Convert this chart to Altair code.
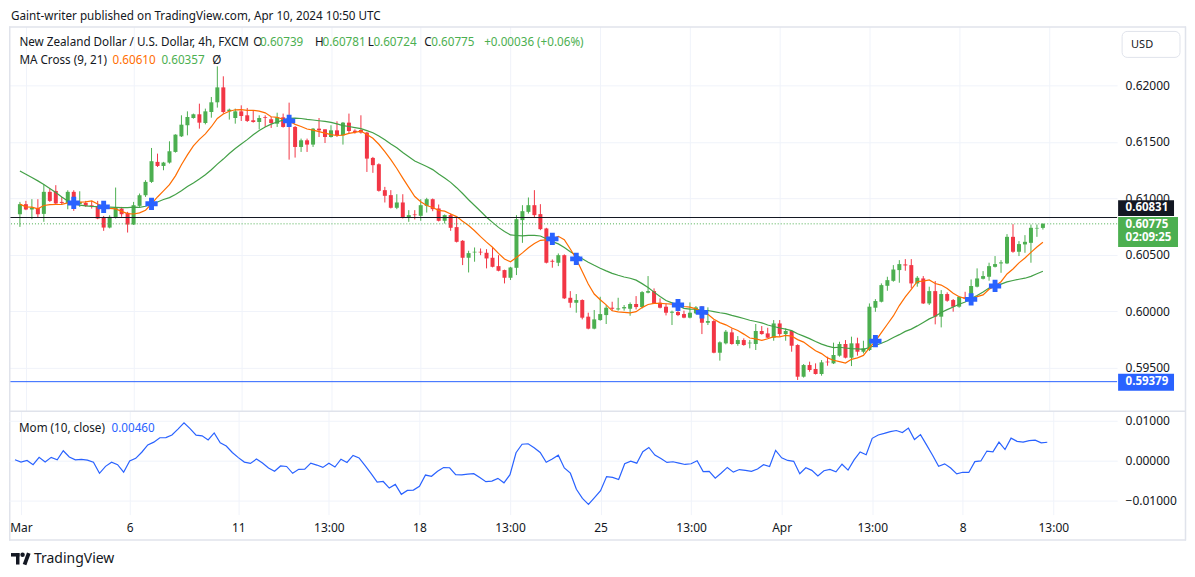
import altair as alt
import pandas as pd

# ---------------- text content ----------------
TITLE = "Gaint-writer published on TradingView.com, Apr 10, 2024 10:50 UTC"
SYMBOL = "New Zealand Dollar / U.S. Dollar, 4h, FXCM"
OHLC_LABELS = ["O", "H", "L", "C"]
OHLC_VALUES = ["0.60739", "0.60781", "0.60724", "0.60775"]
CHANGE_TEXT = "+0.00036 (+0.06%)"
MA_TITLE = "MA Cross (9, 21)"
MA_VALUES = ["0.60610", "0.60357"]
MOM_TITLE = "Mom (10, close)"
MOM_VALUE = "0.00460"

# ---------------- candles (4h NZD/USD) ----------------
opens = [0.60860,0.60949,0.60902,0.60916,0.60863,0.61058,0.61066,0.60969,0.60960,0.61058,
0.60949,0.60960,0.60940,0.60931,0.60831,0.60742,0.60831,0.60910,0.60872,0.60769,
0.60934,0.61028,0.61146,0.61323,0.61287,0.61317,0.61411,0.61549,0.61647,0.61711,
0.61744,0.61667,0.61764,0.61850,0.61982,0.61770,0.61711,0.61770,0.61735,0.61691,
0.61676,0.61717,0.61700,0.61661,0.61717,0.61700,0.61632,0.61455,0.61514,0.61476,
0.61617,0.61611,0.61543,0.61602,0.61558,0.61670,0.61599,0.61605,0.61582,0.61358,
0.61302,0.61073,0.61029,0.60917,0.60964,0.60828,0.60858,0.60846,0.60934,0.60993,
0.60911,0.60802,0.60852,0.60746,0.60625,0.60475,0.60522,0.60528,0.60519,0.60475,
0.60401,0.60366,0.60298,0.60386,0.60808,0.60881,0.60940,0.60861,0.60734,0.60448,
0.60431,0.60498,0.60121,0.60077,0.60101,0.59954,0.59848,0.59924,0.59968,0.60033,
0.60018,0.60027,0.60024,0.60066,0.60039,0.60166,0.60180,0.60077,0.60042,0.59989,
0.59995,0.59977,0.59945,0.59983,0.60042,0.59900,0.59915,0.59635,0.59718,0.59815,
0.59712,0.59747,0.59718,0.59712,0.59827,0.59806,0.59768,0.59894,0.59800,0.59827,
0.59703,0.59423,0.59526,0.59491,0.59447,0.59556,0.59541,0.59609,0.59712,0.59591,
0.59718,0.59644,0.59659,0.60033,0.60086,0.60227,0.60271,0.60366,0.60416,0.60410,
0.60248,0.60292,0.60071,0.60180,0.59954,0.60154,0.60101,0.60042,0.60124,0.60116,
0.60219,0.60289,0.60307,0.60395,0.60425,0.60425,0.60660,0.60528,0.60593,0.60607,
0.60734,0.60739]

highs = [0.60969,0.60978,0.60993,0.60993,0.61125,0.61087,0.61117,0.61013,0.61072,0.61072,
0.61063,0.60978,0.60978,0.60978,0.60845,0.60851,0.61096,0.60925,0.60881,0.60969,
0.61043,0.61161,0.61446,0.61396,0.61323,0.61505,0.61567,0.61735,0.61770,0.61750,
0.61838,0.61794,0.61897,0.62168,0.62080,0.61794,0.61794,0.61823,0.61800,0.61779,
0.61735,0.61735,0.61720,0.61758,0.61750,0.61847,0.61640,0.61529,0.61529,0.61623,
0.61711,0.61611,0.61647,0.61682,0.61676,0.61750,0.61611,0.61735,0.61588,0.61367,
0.61310,0.61102,0.61073,0.61037,0.61037,0.60896,0.60896,0.60993,0.61005,0.60999,
0.60946,0.60858,0.60866,0.60837,0.60631,0.60537,0.60566,0.60557,0.60551,0.60566,
0.60498,0.60370,0.60395,0.60852,0.60940,0.61008,0.61073,0.60949,0.60740,0.60460,
0.60513,0.60505,0.60180,0.60154,0.60107,0.59989,0.60013,0.60130,0.60057,0.60086,
0.60121,0.60057,0.60080,0.60136,0.60180,0.60313,0.60204,0.60116,0.60071,0.60007,
0.60071,0.60007,0.60080,0.60048,0.60048,0.60036,0.59924,0.59735,0.59836,0.59850,
0.59782,0.59762,0.59747,0.59889,0.59871,0.59856,0.59924,0.59924,0.59850,0.59836,
0.59710,0.59535,0.59556,0.59541,0.59570,0.59600,0.59724,0.59732,0.59747,0.59777,
0.59768,0.59741,0.60071,0.60109,0.60248,0.60307,0.60410,0.60454,0.60463,0.60463,
0.60313,0.60313,0.60219,0.60269,0.60189,0.60169,0.60110,0.60136,0.60174,0.60283,
0.60381,0.60357,0.60431,0.60490,0.60454,0.60684,0.60772,0.60622,0.60675,0.60769,
0.60769,0.60781]

lows = [0.60748,0.60896,0.60816,0.60828,0.60793,0.60969,0.60949,0.60949,0.60904,0.60890,
0.60925,0.60925,0.60910,0.60816,0.60713,0.60735,0.60822,0.60837,0.60698,0.60765,
0.60925,0.61013,0.61137,0.61278,0.61249,0.61308,0.61405,0.61543,0.61558,0.61705,
0.61617,0.61655,0.61714,0.61803,0.61750,0.61697,0.61661,0.61685,0.61676,0.61670,
0.61611,0.61632,0.61623,0.61632,0.61626,0.61343,0.61361,0.61411,0.61411,0.61455,
0.61543,0.61490,0.61538,0.61543,0.61476,0.61573,0.61573,0.61573,0.61234,0.61226,
0.61060,0.60964,0.60911,0.60905,0.60822,0.60793,0.60814,0.60802,0.60875,0.60887,
0.60796,0.60778,0.60713,0.60610,0.60410,0.60345,0.60440,0.60498,0.60381,0.60390,
0.60355,0.60248,0.60278,0.60322,0.60607,0.60866,0.60828,0.60719,0.60425,0.60387,
0.60401,0.60110,0.60033,0.59989,0.59930,0.59842,0.59842,0.59918,0.59889,0.60004,
0.60007,0.60007,0.59962,0.60018,0.60027,0.60160,0.60066,0.60027,0.59965,0.59880,
0.59959,0.59940,0.59939,0.59977,0.59800,0.59880,0.59630,0.59565,0.59709,0.59706,
0.59697,0.59697,0.59674,0.59659,0.59795,0.59763,0.59741,0.59777,0.59741,0.59644,
0.59394,0.59415,0.59467,0.59442,0.59432,0.59520,0.59535,0.59600,0.59585,0.59517,
0.59609,0.59629,0.59650,0.59997,0.60080,0.60183,0.60263,0.60254,0.60360,0.60204,
0.60219,0.60066,0.60057,0.59886,0.59859,0.60086,0.59998,0.60033,0.60107,0.60110,
0.60213,0.60283,0.60272,0.60389,0.60342,0.60419,0.60519,0.60490,0.60519,0.60431,
0.60660,0.60724]

closes = [0.60949,0.60902,0.60919,0.60860,0.61058,0.60978,0.60955,0.60960,0.61058,0.60949,
0.60969,0.60934,0.60934,0.60822,0.60742,0.60837,0.60919,0.60860,0.60769,0.60940,
0.61028,0.61146,0.61329,0.61287,0.61317,0.61417,0.61564,0.61652,0.61720,0.61744,
0.61670,0.61770,0.61850,0.61982,0.61764,0.61785,0.61770,0.61729,0.61685,0.61676,
0.61711,0.61711,0.61667,0.61717,0.61632,0.61641,0.61455,0.61514,0.61476,0.61617,
0.61602,0.61543,0.61602,0.61558,0.61670,0.61596,0.61588,0.61582,0.61352,0.61294,
0.61067,0.61023,0.60917,0.60964,0.60828,0.60852,0.60852,0.60940,0.60993,0.60905,
0.60802,0.60852,0.60740,0.60616,0.60475,0.60516,0.60528,0.60522,0.60469,0.60395,
0.60360,0.60298,0.60389,0.60816,0.60887,0.60940,0.60852,0.60728,0.60431,0.60440,
0.60498,0.60116,0.60077,0.60101,0.59945,0.59848,0.59930,0.59977,0.60033,0.60024,
0.60027,0.60039,0.60066,0.60039,0.60171,0.60180,0.60071,0.60033,0.59989,0.59998,
0.59968,0.59945,0.59989,0.60036,0.59900,0.59915,0.59635,0.59727,0.59821,0.59712,
0.59747,0.59703,0.59724,0.59827,0.59800,0.59768,0.59894,0.59800,0.59827,0.59697,
0.59423,0.59526,0.59482,0.59447,0.59550,0.59550,0.59615,0.59712,0.59591,0.59718,
0.59644,0.59674,0.60042,0.60092,0.60233,0.60277,0.60371,0.60419,0.60407,0.60248,
0.60298,0.60071,0.60180,0.59954,0.60154,0.60095,0.60042,0.60130,0.60113,0.60225,
0.60292,0.60313,0.60401,0.60419,0.60434,0.60660,0.60528,0.60596,0.60616,0.60740,
0.60739,0.60775]

# 21-SMA as read at the left edge (its history lies before the visible bars)
ma21_head = [0.61243,0.61214,0.61184,0.61155,0.61122,0.61087,0.61052,0.61013,0.60978,0.60955,
0.60940,0.60934,0.60930,0.60928,0.60928,0.60922,0.60920,0.60919,0.60919,0.60922]
# Momentum as read for the first 10 bars
mom_head = [0.00025,-0.00033,0.00008,-0.00100,0.00083,-0.00033,0.00083,0.00025,0.00250,0.00092]

tick_idx = [1, 19, 37, 52, 67, 82, 97, 112, 127, 142, 157, 172]
tick_labels = ["Mar", "6", "11", "13:00", "18", "13:00", "25", "13:00", "Apr", "13:00", "8", "13:00"]
price_ticks = [0.595, 0.600, 0.605, 0.610, 0.615, 0.620]
mom_ticks = [-0.01, 0.0, 0.01]
level_black = 0.60831
level_blue = 0.59379
last_price = 0.60775
tag_black = "0.60831"
tag_last = "0.60775"
tag_timer = "02:09:25"
tag_blue = "0.59379"

# ---------------- styling ----------------
FONT = "Noto Sans"
TXT = "#131722"
UP = "#4caf50"
DN = "#f23645"
GRID = "#f0f3fa"
BORDER = "#e0e3eb"
BLUE = "#2962ff"
ORANGE = "#ff6d00"
MAGREEN = "#43a047"
FS = 11.7

W = 1110
H_HEAD, H_MAIN, H_MOM, H_FOOT = 18, 385, 104, 54

n = len(closes)
df = pd.DataFrame({
    "idx": list(range(n)),
    "o": opens, "h": highs, "l": lows, "c": closes,
    "ma21e": ma21_head + [None] * (n - len(ma21_head)),
    "mome": mom_head + [None] * (n - len(mom_head)),
})
one = pd.DataFrame({"k": [0]})


def label(text, x, y, color=TXT, size=FS, weight="normal", align="left"):
    return alt.Chart(one).mark_text(
        text=text, color=color, fontSize=size, fontWeight=weight, align=align,
        baseline="middle", font=FONT
    ).encode(x=alt.value(x), y=alt.value(y))


def box(x1, x2, y1, y2, fill, stroke=None, radius=0):
    kw = dict(fill=fill, cornerRadius=radius)
    if stroke:
        kw.update(stroke=stroke, strokeWidth=1)
    return alt.Chart(one).mark_rect(**kw).encode(
        x=alt.value(x1), x2=alt.value(x2), y=alt.value(y1), y2=alt.value(y2))


def seg(x1, x2, y1, y2, color=BORDER, width=1.0):
    return alt.Chart(one).mark_rule(color=color, strokeWidth=width).encode(
        x=alt.value(x1), x2=alt.value(x2), y=alt.value(y1), y2=alt.value(y2))


xs = alt.Scale(domain=[-0.99, 182.57], nice=False, zero=False)
ys = alt.Scale(domain=[0.591214, 0.6252097], nice=False, zero=False)
ms = alt.Scale(domain=[-0.0135, 0.0125], nice=False, zero=False)

x_main_axis = alt.Axis(values=tick_idx, labels=False, ticks=False, domain=False,
                       grid=True, gridColor=GRID, title=None)
y_main_axis = alt.Axis(orient="right", values=price_ticks, format=".5f", grid=True,
                       gridColor=GRID, ticks=False, domain=False, labelPadding=8,
                       title=None, labelFontSize=12, labelColor=TXT, labelFont=FONT)

X = alt.X("idx:Q", scale=xs, axis=x_main_axis)


def YP(field):
    return alt.Y(field, type="quantitative", scale=ys, axis=y_main_axis)


base = alt.Chart(df)
col = alt.condition("datum.c >= datum.o", alt.value(UP), alt.value(DN))

wicks = base.mark_rule(strokeWidth=1).encode(x=X, y=YP("l"), y2="h:Q", color=col)
bodies = base.mark_bar(size=4).encode(x=X, y=YP("o"), y2="c:Q", color=col)

ma = (base
      .transform_window(ma9="mean(c)", frame=[-8, 0], sort=[alt.SortField("idx")])
      .transform_window(ma21r="mean(c)", frame=[-20, 0], sort=[alt.SortField("idx")])
      .transform_calculate(ma21="datum.idx < 20 ? datum.ma21e : datum.ma21r"))
ma21_line = ma.mark_line(color=MAGREEN, strokeWidth=1.2).encode(x=X, y=YP("ma21"), order="idx:Q")
ma9_line = ma.mark_line(color=ORANGE, strokeWidth=1.2).encode(x=X, y=YP("ma9"), order="idx:Q")
crosses = (ma.transform_calculate(d="datum.ma9 - datum.ma21")
           .transform_window(pdiff="lag(d)", sort=[alt.SortField("idx")])
           .transform_filter("isValid(datum.pdiff) && datum.pdiff * datum.d < 0")
           .mark_point(shape="cross", filled=True, size=150, color=BLUE, opacity=1)
           .encode(x=X, y=YP("ma9")))

black_line = alt.Chart(pd.DataFrame({"p": [level_black]})).mark_rule(
    color=TXT, strokeWidth=1).encode(y=YP("p"))
blue_line = alt.Chart(pd.DataFrame({"p": [level_blue]})).mark_rule(
    color=BLUE, strokeWidth=1).encode(y=YP("p"))
last_line = alt.Chart(pd.DataFrame({"p": [last_price]})).mark_rule(
    color=UP, strokeWidth=1, strokeDash=[1, 2]).encode(y=YP("p"))

# outer frame of the chart widget (top, left, right, bottom)
frame = [
    seg(0, 1179, 0.5, 0.5, width=1.5),
    seg(0.75, 0.75, 0, 515, width=1.5),
    seg(1178.5, 1178.5, 0, 515, width=1.5),
    seg(0, 1179, 514.5, 514.5, width=1.5),
]

tags = [
    box(1111, 1167, 174, 190, TXT),
    label(tag_black, 1118.5, 182, color="white", size=11.5, weight="bold"),
    box(1111, 1171, 191, 221, UP),
    label(tag_last, 1118.5, 198.8, color="white", size=11.5, weight="bold"),
    label(tag_timer, 1118.5, 212, color="white", size=11.5, weight="bold"),
    box(1111, 1167, 348, 365, BLUE),
    label(tag_blue, 1118.5, 356.5, color="white", size=11.5, weight="bold"),
    box(1115, 1173, 5, 31, "white", stroke=BORDER, radius=5),
    label("USD", 1124, 18.5, size=11),
]

legend = [
    label(SYMBOL, 10.4, 16),
    label(OHLC_LABELS[0], 244.6, 16), label(OHLC_VALUES[0], 251.5, 16, color=UP),
    label(OHLC_LABELS[1], 306.6, 16), label(OHLC_VALUES[1], 314, 16, color=UP),
    label(OHLC_LABELS[2], 359.4, 16), label(OHLC_VALUES[2], 365, 16, color=UP),
    label(OHLC_LABELS[3], 416, 16), label(OHLC_VALUES[3], 423, 16, color=UP),
    label(CHANGE_TEXT, 476, 16, color=UP),
    label(MA_TITLE, 10.4, 34),
    label(MA_VALUES[0], 103.7, 34, color=ORANGE),
    label(MA_VALUES[1], 152.7, 34, color=UP),
    label("Ø", 203.6, 34),
]

main = alt.layer(
    wicks, bodies, ma21_line, ma9_line, black_line, blue_line, last_line,
    crosses, *frame, *tags, *legend
).properties(width=W, height=H_MAIN)

# ---------------- momentum pane ----------------
x_expr = "''"
for i, t in reversed(list(zip(tick_idx, tick_labels))):
    x_expr = f"datum.value == {i} ? '{t}' : ({x_expr})"

x_mom_axis = alt.Axis(values=tick_idx, labelExpr=x_expr, grid=True, gridColor=GRID,
                      ticks=False, domain=False, labelPadding=8, labelFontSize=12,
                      labelColor=TXT, labelFont=FONT, title=None, labelFlush=False,
                      labelOverlap=False)
y_mom_axis = alt.Axis(orient="right", values=mom_ticks,
                      labelExpr="datum.value < 0 ? '\u2212' + format(-datum.value, '.5f') : format(datum.value, '.5f')",
                      grid=True, gridColor=GRID, ticks=False, domain=False, labelPadding=8,
                      title=None, labelFontSize=12, labelColor=TXT, labelFont=FONT)

mom = (base
       .transform_window(window=[alt.WindowFieldDef(op="lag", field="c", param=10, **{"as": "c10"})],
                         sort=[alt.SortField("idx")])
       .transform_calculate(mom="datum.idx < 10 ? datum.mome : datum.c - datum.c10"))
mom_line = mom.mark_line(color=BLUE, strokeWidth=1.2).encode(
    x=alt.X("idx:Q", scale=xs, axis=x_mom_axis),
    y=alt.Y("mom:Q", scale=ms, axis=y_mom_axis),
    order="idx:Q")

mom_pane = alt.layer(
    seg(0, 1179, 0.5, 0.5, width=1.5),
    mom_line,
    label(MOM_TITLE, 10, 17),
    label(MOM_VALUE, 102.7, 17, color=BLUE),
).properties(width=W, height=H_MOM)

# ---------------- header / footer ----------------
header = alt.layer(label(TITLE, 2, 7.5)).properties(width=W, height=H_HEAD)

logo_t1 = box(2, 10.5, 38.5, 42, TXT)
logo_t2 = box(7, 10.5, 38.5, 50, TXT)
logo_dot = alt.Chart(one).mark_point(shape="circle", filled=True, size=20, color=TXT, opacity=1).encode(
    x=alt.value(13.6), y=alt.value(40.3))
logo_slash = seg(19.8, 15.6, 38.5, 50, color=TXT, width=3.8)
footer = alt.layer(
    logo_t1, logo_t2, logo_dot, logo_slash,
    label("TradingView", 25, 44, size=14),
).properties(width=W, height=H_FOOT)

chart = alt.vconcat(header, main, mom_pane, footer, spacing=0, bounds="flush").properties(
    padding=0, background="white"
).configure_view(stroke=None, strokeWidth=0)

chart.save("out.html", embed_options={"renderer": "svg", "actions": False})
